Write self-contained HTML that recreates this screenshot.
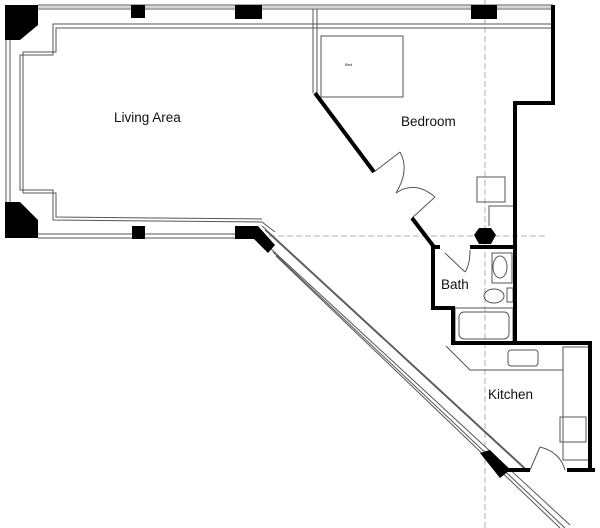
<!DOCTYPE html>
<html><head><meta charset="utf-8"><style>
html,body{margin:0;padding:0;background:#fff;}
svg{display:block}
text{font-family:"Liberation Sans",sans-serif;fill:#111}
</style></head><body>
<svg width="600" height="528" viewBox="0 0 600 528" xmlns="http://www.w3.org/2000/svg">
<g fill="none" stroke="#999" stroke-width="0.8" stroke-dasharray="6,3">
<line x1="485" y1="0" x2="485" y2="528"/>
<line x1="260" y1="236" x2="545" y2="236"/>
</g>
<g fill="none" stroke="#555" stroke-width="1">
<line x1="38" y1="5" x2="553" y2="5"/>
<line x1="38" y1="9" x2="553" y2="9"/>
<line x1="38" y1="7" x2="553" y2="7" stroke="#aaa"/>
<line x1="6" y1="40" x2="6" y2="202"/>
<line x1="10" y1="40" x2="10" y2="202"/>
<line x1="38" y1="234" x2="235" y2="234"/>
<line x1="38" y1="238" x2="235" y2="238"/>
<polyline points="553,24 53,24 53,55 20,55 20,190 53,190 53,220 262,222 275,232"/>
<polyline points="553,28 56,28 56,52 23,52 23,193 56,193 56,217 262,219"/>
<line x1="313" y1="9" x2="313" y2="93"/>
<line x1="317" y1="9" x2="317" y2="93"/>
<line x1="262" y1="226" x2="525" y2="468"/>
<line x1="265" y1="230" x2="528" y2="472"/>
<line x1="270" y1="248" x2="570" y2="525"/>
<line x1="273" y1="252" x2="565" y2="528"/>
<line x1="276" y1="256" x2="560" y2="528"/>
<rect x="321" y="36" width="82" height="61"/>
<rect x="477" y="177" width="28" height="25"/>
<polyline points="489,226 489,206 513,206"/>
<rect x="492" y="253" width="20" height="30"/>
<ellipse cx="500" cy="267" rx="7" ry="11"/>
<ellipse cx="494" cy="296" rx="10" ry="7"/>
<rect x="507" y="288" width="6" height="14"/>
<rect x="455" y="308" width="58" height="35"/>
<rect x="459" y="312" width="50" height="27" rx="5"/>
<line x1="445" y1="253" x2="465" y2="272"/>
<path d="M470,250 Q470,265 465,272"/>
<polyline points="446,346 470,370 563,370"/>
<rect x="563" y="347" width="27" height="113"/>
<rect x="560" y="417" width="26" height="25"/>
<rect x="508" y="350" width="30" height="16" rx="3"/>
<line x1="530" y1="470" x2="540" y2="447"/>
<path d="M540,447 Q560,452 565,470"/>
<line x1="374" y1="172" x2="400" y2="152"/>
<path d="M400,152 Q410,170 396,193"/>
<line x1="412" y1="218" x2="435" y2="197"/>
<path d="M435,197 Q415,180 396,193"/>
</g>
<text x="345" y="66" font-size="4">Bed</text>
<g fill="#000">
<polygon points="5,5 38,5 38,25 20,40 5,40"/>
<rect x="131" y="5" width="14" height="13"/>
<rect x="235" y="5" width="27" height="14"/>
<rect x="471" y="5" width="26" height="14"/>
<polygon points="5,202 20,202 38,220 38,238 5,238"/>
<rect x="132" y="226" width="13" height="13"/>
<polygon points="235,226 258,226 275,245 268,253 254,239 235,239"/>
<polygon points="480,453 490,450 510,470 500,478"/>
<polygon points="479,228 491,228 496,235 491,244 479,244 474,235"/>
</g>
<g fill="none" stroke="#000" stroke-width="4">
<polyline points="553,5 553,103 515,103 515,343"/>
<polyline points="315,93 374,172"/>
<polyline points="412,218 434,247"/>
<polyline points="433,245 433,308 453,308 453,343 590,343 590,470"/>
<line x1="470" y1="247" x2="515" y2="247"/>
<line x1="567" y1="470" x2="595" y2="470"/>
<line x1="505" y1="470" x2="530" y2="470"/>
<line x1="433" y1="247" x2="440" y2="247"/>
</g>
<text x="114" y="122" font-size="13.5">Living Area</text>
<text x="401" y="126" font-size="13.5">Bedroom</text>
<text x="441" y="289" font-size="13.5">Bath</text>
<text x="488" y="399" font-size="13.5">Kitchen</text>
</svg>
</body></html>
